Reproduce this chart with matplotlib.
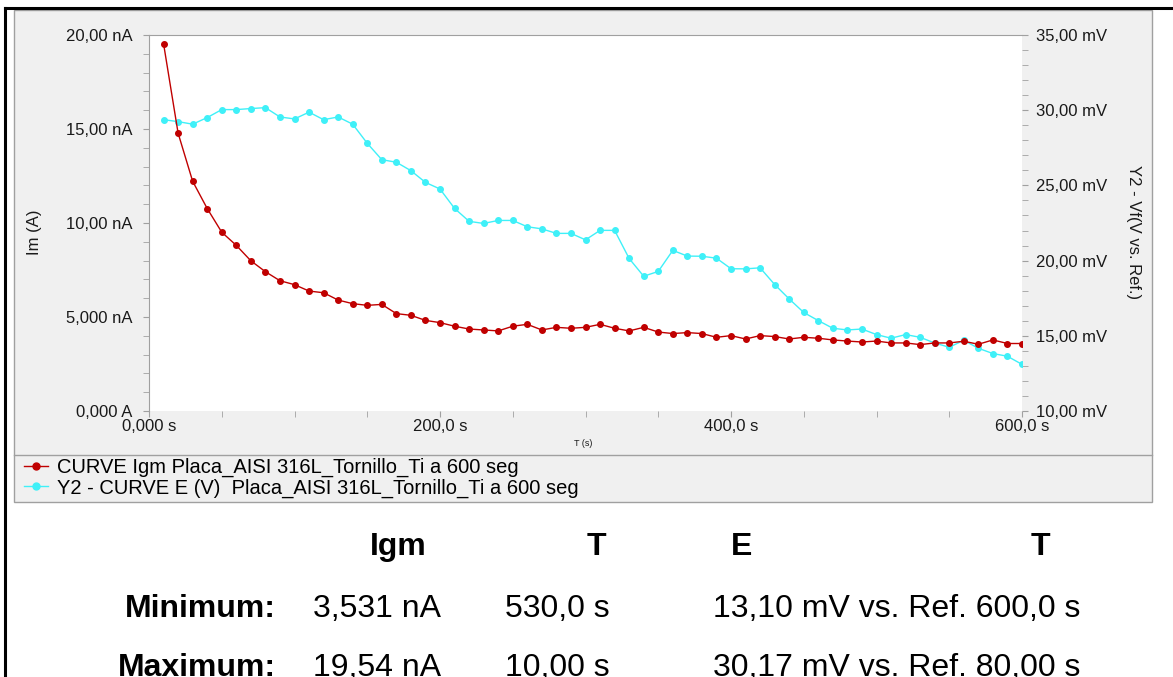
import matplotlib.pyplot as plt
from matplotlib.lines import Line2D
from matplotlib.patches import Rectangle

plt.rcParams['font.family'] = ['Liberation Sans', 'DejaVu Sans']

# datos
t = list(range(10, 610, 10))
igm = [19.54, 14.78, 12.22, 10.77, 9.51, 8.81, 7.99, 7.41, 6.93, 6.72,
       6.38, 6.29, 5.90, 5.71, 5.62, 5.67, 5.18, 5.09, 4.82, 4.70,
       4.51, 4.36, 4.31, 4.26, 4.51, 4.61, 4.31, 4.45, 4.40, 4.45,
       4.61, 4.40, 4.26, 4.45, 4.20, 4.12, 4.17, 4.12, 3.92, 4.01,
       3.83, 4.01, 3.96, 3.83, 3.92, 3.87, 3.78, 3.72, 3.67, 3.72,
       3.62, 3.62, 3.531, 3.62, 3.62, 3.71, 3.55, 3.78, 3.59, 3.59]
e_mv = [29.37, 29.24, 29.07, 29.51, 30.04, 30.04, 30.11, 30.17, 29.55, 29.42,
        29.87, 29.37, 29.55, 29.07, 27.80, 26.71, 26.54, 25.98, 25.20, 24.76,
        23.47, 22.61, 22.47, 22.67, 22.67, 22.25, 22.11, 21.81, 21.81, 21.38,
        22.01, 22.01, 20.14, 18.96, 19.28, 20.68, 20.30, 20.29, 20.16, 19.46,
        19.45, 19.52, 18.41, 17.45, 16.55, 16.01, 15.50, 15.39, 15.45, 15.08,
        14.84, 15.08, 14.90, 14.52, 14.24, 14.70, 14.17, 13.82, 13.64, 13.10]

x_ticks = [0, 200, 400, 600]
x_labels = ['0,000 s', '200,0 s', '400,0 s', '600,0 s']
y1_ticks = [0, 5, 10, 15, 20]
y1_labels = ['0,000 A', '5,000 nA', '10,00 nA', '15,00 nA', '20,00 nA']
y2_ticks = [10, 15, 20, 25, 30, 35]
y2_labels = ['10,00 mV', '15,00 mV', '20,00 mV', '25,00 mV', '30,00 mV', '35,00 mV']

label1 = 'CURVE Igm Placa_AISI 316L_Tornillo_Ti a 600 seg'
label2 = 'Y2 - CURVE E (V)  Placa_AISI 316L_Tornillo_Ti a 600 seg'

headers = ['Igm', 'T', 'E', 'T']
row_names = ['Minimum:', 'Maximum:']
row_igm = ['3,531 nA', '19,54 nA']
row_t1 = ['530,0 s', '10,00 s']
row_e = ['13,10 mV vs. Ref. 600,0 s', '30,17 mV vs. Ref. 80,00 s']

W, H = 1173, 677
def fx(x):
    return x / W
def fy(y):
    return 1 - y / H

RED = '#c00000'
CYAN = '#3ff0f8'
GRID = '#a0a0a0'
TXT = '#1a1a1a'

fig = plt.figure(figsize=(W / 100, H / 100), dpi=100)
fig.patch.set_facecolor('white')

# panel gris + recuadro de leyenda
fig.add_artist(Rectangle((fx(14), fy(502)), fx(1152) - fx(14), fy(10) - fy(502),
                         transform=fig.transFigure, facecolor='#f0f0f0',
                         edgecolor=GRID, lw=1, zorder=0))
fig.add_artist(Line2D([fx(14), fx(1152)], [fy(455), fy(455)], transform=fig.transFigure,
                      color=GRID, lw=1))
# marco negro
fig.add_artist(Line2D([fx(5), fx(1173)], [fy(8), fy(8)], transform=fig.transFigure,
                      color='black', lw=2.2))
fig.add_artist(Line2D([fx(5), fx(5)], [fy(8), 0], transform=fig.transFigure,
                      color='black', lw=2.2))

ax2 = fig.add_axes([fx(149), fy(411), fx(1022) - fx(149), fy(35) - fy(411)])
ax = ax2.twinx()
ax.yaxis.tick_left()
ax.yaxis.set_label_position('left')
ax2.yaxis.tick_right()
ax.set_zorder(ax2.get_zorder() + 1)
ax.patch.set_visible(False)
ax2.set_facecolor('white')

ax2.plot(t, e_mv, color=CYAN, lw=1, marker='o', ms=4, mec=CYAN, label=label2)
ax.plot(t, igm, color=RED, lw=1, marker='o', ms=4, mec=RED, label=label1)

ax.set_xlim(0, 600)
ax.set_ylim(0, 20)
ax2.set_ylim(10, 35)

for a in (ax, ax2):
    for s in a.spines.values():
        s.set_visible(False)
ax.spines['top'].set_visible(True)
ax.spines['left'].set_visible(True)
ax.spines['top'].set_color(GRID)
ax.spines['left'].set_color(GRID)

ax2.set_xticks(x_ticks)
ax2.set_xticklabels(x_labels)
ax2.set_xticks(range(0, 601, 50), minor=True)
ax.set_yticks(y1_ticks)
ax.set_yticklabels(y1_labels)
ax.set_yticks(range(0, 21), minor=True)
ax2.set_yticks(y2_ticks)
ax2.set_yticklabels(y2_labels)
ax2.set_yticks(range(10, 36), minor=True)

ax2.tick_params(axis='x', which='both', length=4, color=GRID, labelsize=12,
                labelcolor=TXT, pad=2)
ax.tick_params(axis='y', which='both', length=4, color=GRID, labelsize=12,
               labelcolor=TXT, pad=8)
ax2.tick_params(axis='y', which='both', length=4, color=GRID, labelsize=12,
                labelcolor=TXT, pad=6)

fig.text(fx(35), fy(232), 'Im (A)', rotation=90, ha='center', va='center',
         fontsize=12, color=TXT)
fig.text(fx(1133), fy(232), 'Y2 - Vf(V vs. Ref.)', rotation=-90, ha='center',
         va='center', fontsize=12, color=TXT)
fig.text(fx(583), fy(443), 'T (s)', ha='center', va='center', fontsize=6.5, color=TXT)

h1 = Line2D([], [], color=RED, lw=1, marker='o', ms=5, mec=RED)
h2 = Line2D([], [], color=CYAN, lw=1, marker='o', ms=5, mec=CYAN)
fig.legend([h1, h2], [label1, label2], loc='upper left',
           bbox_to_anchor=(fx(24), fy(458)), frameon=False, fontsize=14.5,
           handlelength=1.2, handletextpad=0.45, labelspacing=0.05,
           borderpad=0, borderaxespad=0)

# tabla de min / max
hx = [398, 596, 742, 1040]
for x, h in zip(hx, headers):
    fig.text(fx(x), fy(547), h, ha='center', va='center', fontsize=23,
             fontweight='bold', color='black')
ry = [609, 668]
for i in range(2):
    y = fy(ry[i])
    fig.text(fx(276), y, row_names[i], ha='right', va='center', fontsize=23,
             fontweight='bold', color='black')
    fig.text(fx(441), y, row_igm[i], ha='right', va='center', fontsize=23, color='black')
    fig.text(fx(505), y, row_t1[i], ha='left', va='center', fontsize=23, color='black')
    fig.text(fx(1080), y, row_e[i], ha='right', va='center', fontsize=23, color='black')

fig.savefig('out.png', dpi=100)
